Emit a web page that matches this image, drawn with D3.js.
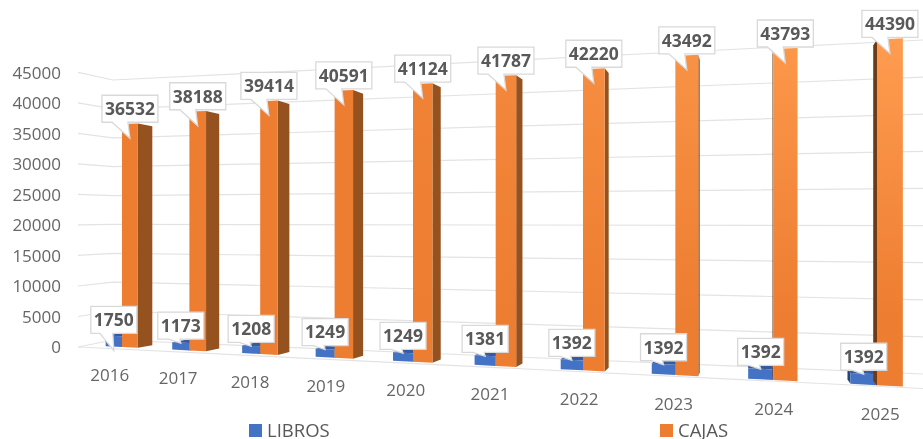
<!DOCTYPE html>
<html><head><meta charset="utf-8">
<script src="https://cdn.jsdelivr.net/npm/d3@7"></script>
<style>
html,body{margin:0;padding:0;background:#fff;overflow:hidden}
svg{display:block;filter:blur(.4px)}
text{font-family:"Open Sans",sans-serif}
</style></head><body>
<svg id="c" width="923" height="439"></svg>
<script>
const years = ["2016","2017","2018","2019","2020","2021","2022","2023","2024","2025"];
const libros = [1750,1173,1208,1249,1249,1381,1392,1392,1392,1392];
const cajas = [36532,38188,39414,40591,41124,41787,42220,43492,43793,44390];
const axisTicks = [0,5000,10000,15000,20000,25000,30000,35000,40000,45000];
const seriesNames = ["LIBROS","CAJAS"];
const colors = {blue:"#4472c4",blueTop:"#365a9c",blueSide:"#264478",orange:"#ed7d31",orangeSide:"#95511e",orangeSideL:"#6b3a16"};

const svg = d3.select("#c");
const defs = svg.append("defs");

// category index and value scales of the 3D view
const u = d3.scalePoint().domain(years).range([0,9]);
const v = d3.scaleLinear().domain([0,45000]).range([0,274.7]);
const VP = [750,240], K = 0.024, M = 0.024;
function P(uu,val,d){
  const w = 1-K*uu+M*d;
  const X = 122+62.84*uu+VP[0]*M*d;
  const Y = 347-5.0*uu-v(val)+VP[1]*M*d;
  return [X/w,Y/w];
}
const line = d3.line();
const poly = pts => line(pts)+"Z";

// y axis
const yAxisScale = d3.scaleLinear().domain([0,45000]).range([347,73]);
svg.append("g").attr("transform","translate(61,0)")
  .call(d3.axisLeft(yAxisScale).tickValues(axisTicks).tickSize(0).tickPadding(0).tickFormat(d3.format("d")))
  .call(g=>g.select(".domain").remove())
  .call(g=>g.selectAll("text").attr("fill","#666").style("font-size","17px").style("font-family",'"Open Sans",sans-serif'));

// gridlines: side wall and back wall
const wallY = d3.scaleLinear().domain([0,45000]);
const leftBack = wallY.copy().range([340,80]), rightBack = wallY.copy().range([374,40]), sideFront = yAxisScale.copy().range([347,72.4]);
const grid = svg.append("g").attr("fill","none").attr("stroke","#e3e3e3").attr("stroke-width",1.2);
grid.selectAll("path").data(axisTicks).join("path")
  .attr("d",t=>line([[78,sideFront(t)],[113,leftBack(t)],[923,rightBack(t)]]));
grid.append("path").attr("d",line([[78,347],[923,388.5]]));

// bars
function bar(g,uu,val,u0,u1,col){
  const d0=0,d1=1;
  const fbl=P(uu+u0,0,d0),fbr=P(uu+u1,0,d0),ftl=P(uu+u0,val,d0),ftr=P(uu+u1,val,d0);
  const bbl=P(uu+u0,0,d1),bbr=P(uu+u1,0,d1),btl=P(uu+u0,val,d1),btr=P(uu+u1,val,d1);
  if(ftl[1]>VP[1]) g.append("path").attr("d",poly([ftl,ftr,btr,btl])).attr("fill",col.top);
  if(fbr[0]<VP[0]) g.append("path").attr("d",poly([ftr,btr,bbr,fbr])).attr("fill",col.side);
  if(fbl[0]>VP[0]) g.append("path").attr("d",poly([ftl,btl,bbl,fbl])).attr("fill",col.sideL);
  g.append("path").attr("d",poly([ftl,ftr,fbr,fbl])).attr("fill",col.front);
}
const barsG = svg.append("g");
const gradTop = d3.scaleLinear().domain([3,9]).range(["#ed7d31","#ff9c4f"]).clamp(true);
years.forEach((y,i)=>{
  const g = barsG.append("g"), uu=u(y);
  const id="o"+i;
  const lg=defs.append("linearGradient").attr("id",id).attr("x1",0).attr("y1",0).attr("x2",0).attr("y2",1);
  lg.append("stop").attr("offset","0").attr("stop-color",gradTop(uu));
  lg.append("stop").attr("offset","0.8").attr("stop-color",colors.orange);
  bar(g,uu,libros[i],-0.25,0,{front:colors.blue,top:colors.blueTop,side:colors.blueSide,sideL:colors.blueSide});
  bar(g,uu,cajas[i],0,0.24,{front:`url(#${id})`,top:colors.orange,side:colors.orangeSide,sideL:colors.orangeSideL});
});

// category labels
svg.append("g").selectAll("text").data(years).join("text")
  .attr("x",y=>P(u(y),0,-0.8)[0]).attr("y",y=>P(u(y),0,-0.8)[1]+31.5)
  .attr("text-anchor","middle").attr("fill","#666").style("font-size","17px").text(y=>y);

// callouts
function callout(g,cx,top,gap,txt,w,tail,b0,b1){
  const h=27, bot=top-gap, t=bot-h, l=cx-w/2, r=cx+w/2;
  g.append("path").attr("fill","#fff").attr("stroke","#d9d9d9").attr("stroke-width",1.3)
   .attr("d",poly([[l,t],[r,t],[r,bot],[cx+b1,bot],[cx,bot+tail],[cx+b0,bot],[l,bot]]));
  g.append("text").attr("x",cx).attr("y",bot-h/2).attr("dy",".36em").attr("text-anchor","middle")
   .attr("fill","#595959").style("font-size","17.5px").style("font-weight",700).text(txt);
}
const lab = svg.append("g");
years.forEach((y,i)=>{
  const uu=u(y);
  const a=P(uu-0.25,libros[i],0),b=P(uu,libros[i],0);
  const c=P(uu,cajas[i],0),e=P(uu+0.24,cajas[i],0);
  callout(lab,(a[0]+b[0])/2,(a[1]+b[1])/2,i===0?2.5:3.5,String(libros[i]),46,i===0?17:4,i===0?-14:-12,-1);
  callout(lab,(c[0]+e[0])/2,(c[1]+e[1])/2,1.5,String(cajas[i]),56,16,-18,-2);
});

// legend
const legendX = d3.scaleOrdinal().domain(seriesNames).range([249,660]);
const legendC = d3.scaleOrdinal().domain(seriesNames).range([colors.blue,colors.orange]);
const lg = svg.append("g").selectAll("g").data(seriesNames).join("g")
  .attr("transform",s=>`translate(${legendX(s)},424)`);
lg.append("rect").attr("width",13).attr("height",13).attr("fill",s=>legendC(s));
lg.append("text").attr("x",18).attr("y",12.5).attr("fill","#595959").style("font-size","18.5px").text(s=>s);
</script></body></html>
